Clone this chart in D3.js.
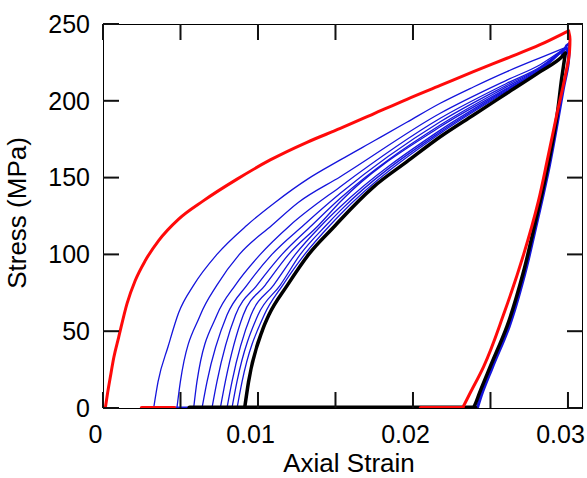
<!DOCTYPE html>
<html>
<head>
<meta charset="utf-8">
<script src="https://cdn.jsdelivr.net/npm/d3@7"></script>
<style>
  html, body { margin: 0; padding: 0; background: #fff; }
  svg { display: block; }
  text { font-family: "Liberation Sans", Arial, sans-serif; fill: #000; }
</style>
</head>
<body>
<svg id="chart" width="587" height="478"></svg>
<script>
// Tick values and labels
const xMajorTicks = [0, 0.01, 0.02, 0.03];
const xTickLabels = ["0", "0.01", "0.02", "0.03"];
const xAllTicks = [0, 0.005, 0.01, 0.015, 0.02, 0.025, 0.03];
const yTicks = [0, 50, 100, 150, 200, 250];

// Monotonic loading (red): [axial strain, stress MPa]
const redLoading = [
  [0.00015, 0], [0.0003, 10], [0.00047, 20], [0.0007, 33], [0.00101, 46],
  [0.00155, 68], [0.00208, 83], [0.00273, 96], [0.00359, 109], [0.00488, 123],
  [0.00649, 135], [0.00865, 149], [0.01079, 161.5], [0.01316, 173], [0.01531, 182],
  [0.01746, 191.5], [0.01961, 201], [0.02176, 210], [0.0239, 219], [0.02606, 227.7],
  [0.0282, 236.5], [0.02994, 245], [0.03004, 245.5]
];
const redUnloading = [
  [0.03004, 245.5], [0.03013, 240], [0.0301, 232], [0.0298, 215], [0.0293, 192],
  [0.0287, 163], [0.0281, 135], [0.02714, 100], [0.02585, 61], [0.02456, 27],
  [0.0236, 8], [0.0232, 0]
];
const redZeroRight = [[0.0205, 0], [0.0232, 0]];
const redZeroLeft = [[0.0025, 0], [0.0046, 0]];

// Cyclic reloading curves (blue)
const blueCycle1 = [
  [0.00327, 0], [0.00355, 17], [0.0042, 40], [0.00488, 62], [0.00585, 80],
  [0.00735, 100], [0.00929, 119], [0.01112, 134], [0.0132, 149], [0.01531, 161.5],
  [0.0175, 174], [0.0196, 186], [0.02176, 198.4], [0.0239, 209], [0.02606, 219],
  [0.0282, 228], [0.0299, 235]
];
const blueCycle2 = [
  [0.00477, 0], [0.00499, 17], [0.00628, 60.5], [0.00735, 80], [0.0088, 100],
  [0.0109, 119], [0.01262, 134], [0.01531, 150.6], [0.02176, 191.9], [0.02606, 213.5],
  [0.0282, 223.5], [0.0299, 235]
];
const blueCycle3 = [
  [0.00585, 0], [0.00606, 17], [0.00735, 60.5], [0.00854, 80], [0.01015, 100],
  [0.01208, 119], [0.01531, 144.1], [0.02176, 188.6], [0.02606, 211.4], [0.0282, 222],
  [0.0299, 235]
];
const blueCycle4 = [
  [0.00639, 0], [0.00671, 17], [0.008, 60.5], [0.00929, 80], [0.0109, 100],
  [0.01294, 119], [0.01531, 139.8], [0.02176, 186.4], [0.02606, 210.3], [0.0282, 221.5],
  [0.0299, 235]
];
const blueCycle5 = [
  [0.00703, 0], [0.00735, 17], [0.00855, 60.5], [0.00994, 80], [0.01155, 100],
  [0.01348, 119], [0.01531, 136.5], [0.02176, 184.2], [0.02606, 209.2], [0.0282, 221],
  [0.0299, 235]
];
const blueCycle6 = [
  [0.00757, 0], [0.00789, 17], [0.00905, 60.5], [0.01047, 80], [0.01198, 100],
  [0.01391, 119], [0.01531, 134.3], [0.02176, 183.1], [0.02606, 208.1], [0.0282, 220.5],
  [0.0299, 235]
];
const blueCycle7 = [
  [0.008, 0], [0.00832, 17], [0.00955, 60.5], [0.01101, 80], [0.01241, 100],
  [0.0141, 119], [0.01531, 131], [0.02176, 180.9], [0.02606, 207.5], [0.0282, 220],
  [0.0299, 235]
];
const blueCycle8 = [
  [0.00832, 0], [0.00864, 17], [0.01, 60.5], [0.01144, 80], [0.01273, 100],
  [0.0144, 119], [0.01531, 128.5], [0.02176, 179.8], [0.02606, 206.8], [0.0282, 219.5],
  [0.0299, 235]
];
const blueCycle9 = [
  [0.00865, 0], [0.00897, 17], [0.0104, 60.5], [0.0116, 80], [0.01301, 100],
  [0.01465, 119], [0.01531, 126], [0.02176, 178.8], [0.02606, 206.2], [0.0282, 219.2],
  [0.0299, 235]
];
const blueUnloading = [
  [0.03008, 237], [0.03002, 225], [0.0297, 208], [0.02935, 188],
  [0.0288, 158], [0.0279, 117], [0.0272, 87], [0.0262, 53], [0.0251, 26],
  [0.0244, 8], [0.02415, 0]
];
// Scatter of the cycle peaks around the reversal point
const bluePeak = [
  [0.0296, 230], [0.0299, 236], [0.0301, 237.5], [0.03008, 233], [0.0299, 231], [0.02995, 234]
];
const blueZero = [[0.0039, 0], [0.0057, 0]];

// Final cycle (black)
const blackLoading = [
  [0.00914, 0], [0.00939, 17], [0.0103, 51], [0.0107, 60.5], [0.0119, 80],
  [0.01327, 100], [0.015, 119], [0.01531, 122.4], [0.01746, 144], [0.01961, 160.4],
  [0.02176, 176.6], [0.02391, 190.8], [0.02606, 204.9], [0.02821, 219], [0.02961, 228.7],
  [0.02983, 231]
];
const blackUnloading = [
  [0.02983, 231], [0.0296, 215], [0.02929, 190], [0.02865, 155], [0.02778, 116],
  [0.02714, 89], [0.02606, 53], [0.02499, 27], [0.0243, 10], [0.02395, 1], [0.0239, 0]
];
const blackZero = [[0.0056, 0], [0.024, 0]];

const blueCycles = [blueCycle1, blueCycle2, blueCycle3, blueCycle4, blueCycle5,
                    blueCycle6, blueCycle7, blueCycle8, blueCycle9];

// Layout
const plot = { left: 103, top: 24, right: 583, bottom: 408 };
const TICK = 16;

const svg = d3.select("#chart");

const x = d3.scaleLinear().domain([0, 0.03097]).range([plot.left, plot.right]);
const y = d3.scaleLinear().domain([0, 250]).range([plot.bottom, plot.top]);

svg.append("defs").append("clipPath").attr("id", "plotClip")
  .append("rect")
  .attr("x", plot.left).attr("y", plot.top)
  .attr("width", plot.right - plot.left).attr("height", plot.bottom - plot.top);

// Loading branches are single-valued in strain, unloading branches in stress
const lineLoad = d3.line().x(d => x(d[0])).y(d => y(d[1])).curve(d3.curveMonotoneX);
const lineUnload = d3.line().x(d => x(d[0])).y(d => y(d[1])).curve(d3.curveMonotoneY);
const lineFlat = d3.line().x(d => x(d[0])).y(d => y(d[1]));

const marks = svg.append("g").attr("clip-path", "url(#plotClip)");

const BLUE = "#1414dc", RED = "#ff0a0a", BLACK = "#000";

function drawPath(data, gen, color, width) {
  marks.append("path").datum(data)
    .attr("d", gen)
    .attr("fill", "none").attr("stroke", color).attr("stroke-width", width)
    .attr("stroke-linejoin", "round").attr("stroke-linecap", "round");
}

// Blue reloading cycles
marks.selectAll("path.blue")
  .data(blueCycles)
  .join("path")
  .attr("class", "blue")
  .attr("d", lineLoad)
  .attr("fill", "none").attr("stroke", BLUE).attr("stroke-width", 1.3)
  .attr("stroke-linejoin", "round");
drawPath(blueUnloading, lineUnload, BLUE, 3.2);
drawPath(bluePeak, lineFlat, BLUE, 2.5);
drawPath(blueZero, lineFlat, BLUE, 3);

// Black final cycle
drawPath(blackLoading, lineLoad, BLACK, 3.5);
drawPath(blackUnloading, lineUnload, BLACK, 3.5);
drawPath(blackZero, lineFlat, BLACK, 5);

// Red monotonic curve
drawPath(redLoading, lineLoad, RED, 3);
drawPath(redUnloading, lineUnload, RED, 3);
drawPath(redZeroRight, lineFlat, RED, 4);
drawPath(redZeroLeft, lineFlat, RED, 4);

// Frame
svg.append("rect")
  .attr("x", plot.left + 0.5).attr("y", plot.top + 0.5)
  .attr("width", plot.right - plot.left - 1).attr("height", plot.bottom - plot.top)
  .attr("fill", "none").attr("stroke", "#000").attr("stroke-width", 1);

// Inward ticks on all four sides (filled bars, 2px wide)
const tickBars = [];
xAllTicks.forEach(t => {
  tickBars.push({ x: x(t) - 1, y: plot.bottom - TICK, w: 2, h: TICK });
  tickBars.push({ x: x(t) - 1, y: plot.top, w: 2, h: TICK });
});
yTicks.forEach(t => {
  tickBars.push({ x: plot.left, y: y(t) - 1, w: TICK, h: 2 });
  tickBars.push({ x: plot.right - TICK, y: y(t) - 1, w: TICK, h: 2 });
});
svg.append("g").selectAll("rect")
  .data(tickBars)
  .join("rect")
  .attr("x", d => d.x).attr("y", d => d.y)
  .attr("width", d => d.w).attr("height", d => d.h)
  .attr("fill", "#111");

// Tick labels
const xLab = svg.append("g").attr("transform", `translate(0,${plot.bottom})`)
  .call(d3.axisBottom(x).tickValues(xMajorTicks).tickSize(0)
    .tickFormat((d, i) => xTickLabels[i]));
xLab.select(".domain").remove();
xLab.selectAll("text")
  .attr("font-size", 25).attr("font-family", "Liberation Sans, Arial, sans-serif")
  .attr("dy", 0).attr("y", 35).attr("dx", -8);

const yLab = svg.append("g").attr("transform", `translate(${plot.left},0)`)
  .call(d3.axisLeft(y).tickValues(yTicks).tickSize(0).tickFormat(d3.format("d")));
yLab.select(".domain").remove();
yLab.selectAll("text")
  .attr("font-size", 25).attr("font-family", "Liberation Sans, Arial, sans-serif")
  .attr("x", -13).attr("dy", "0.33em");

// Axis titles
svg.append("text")
  .attr("x", 349).attr("y", 472)
  .attr("text-anchor", "middle").attr("font-size", 26)
  .text("Axial Strain");
svg.append("text")
  .attr("transform", "translate(26,213) rotate(-90)")
  .attr("text-anchor", "middle").attr("font-size", 26)
  .text("Stress (MPa)");
</script>
</body>
</html>
